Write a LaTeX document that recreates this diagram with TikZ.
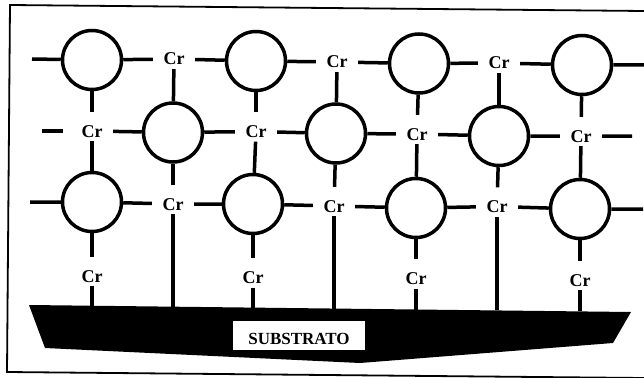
\documentclass[tikz,border=0pt]{standalone}
\usepackage{fontspec}
\setmainfont{Liberation Serif}
\begin{document}
\begin{tikzpicture}[x=1pt,y=-1pt,
  bond/.style={line width=3.5pt},
  ring/.style={circle,draw,line width=3.5pt,minimum size=59pt,inner sep=0pt},
  crlab/.style={font=\bfseries\fontsize{18}{20}\selectfont,inner xsep=10.5pt,inner ysep=4pt,text height=12pt,text depth=0pt},
  fromtop/.style={shorten >=9pt}]
\useasboundingbox (0,0) rectangle (644,377);
% frame
\draw[line width=1.8pt] (644,11) -- (10,5) -- (7,372) -- (644,378);

% substrate
\fill (29,305) -- (631,312) -- (613,343) -- (360,363) -- (45,348) -- cycle;
\node[fill=white,minimum width=132pt,minimum height=29pt,inner sep=0pt,
      text height=18pt,text depth=0pt,font=\bfseries\fontsize{17}{20}\selectfont]
  (sub) at (299,335.5) {SUBSTRATO};
\foreach \n/\x in {s1/92,s2/173,s3/253,s4/334,s5/416,s6/497,s7/580}
  \coordinate (\n) at (\x,{305+(\x-29)*7/602});

% rings
\node[ring] (a11) at (92,60) {};
\node[ring] (a12) at (256,61) {};
\node[ring] (a13) at (419,63.5) {};
\node[ring] (a14) at (582,65) {};
\node[ring] (a21) at (173,132.5) {};
\node[ring] (a22) at (336,133.5) {};
\node[ring] (a23) at (499,136) {};
\node[ring] (a31) at (92,202) {};
\node[ring] (a32) at (253,204) {};
\node[ring] (a33) at (416,208) {};
\node[ring] (a34) at (580,209) {};

% chromium links
\node[crlab] (c11) at (174,59) {Cr};
\node[crlab] (c12) at (337,62) {Cr};
\node[crlab] (c13) at (499,63) {Cr};
\node[crlab] (c21) at (92,131) {Cr};
\node[crlab] (c22) at (256,131.5) {Cr};
\node[crlab] (c23) at (417,134) {Cr};
\node[crlab] (c24) at (581,136) {Cr};
\node[crlab] (c31) at (173,204) {Cr};
\node[crlab] (c32) at (334,206) {Cr};
\node[crlab] (c33) at (497,206.5) {Cr};
\node[crlab] (c41) at (92,276) {Cr};
\node[crlab] (c42) at (253,277.5) {Cr};
\node[crlab] (c43) at (416,278.5) {Cr};
\node[crlab] (c44) at (580,280) {Cr};

% free ends of the chains
\coordinate (l1) at (32,59);
\coordinate (r1) at (644,65);
\coordinate (l2) at (42,131);
\coordinate (r2) at (632,136);
\coordinate (l3) at (30,202);
\coordinate (r3) at (643,209);

\begin{scope}[bond]
% horizontal chains
\draw (l1) -- (a11) -- (c11) -- (a12) -- (c12) -- (a13) -- (c13) -- (a14) -- (r1);
\draw[shorten <=8pt] (c21) -- (l2);
\draw (c21) -- (a21) -- (c22) -- (a22) -- (c23) -- (a23) -- (c24) -- (r2);
\draw (l3) -- (a31) -- (c31) -- (a32) -- (c32) -- (a33) -- (c33) -- (a34) -- (r3);
% vertical links
\draw[fromtop] (a11) -- (c21);  \draw (c21) -- (a31);
\draw[fromtop] (a12) -- (c22);  \draw (c22) -- (a32);
\draw[fromtop] (a13) -- (c23);  \draw (c23) -- (a33);
\draw[fromtop] (a14) -- (c24);  \draw (c24) -- (a34);
\draw (c11) -- (a21);  \draw[fromtop] (a21) -- (c31);  \draw (c31) -- (s2);
\draw (c12) -- (a22);  \draw[fromtop] (a22) -- (c32);  \draw (c32) -- (s4);
\draw (c13) -- (a23);  \draw[fromtop] (a23) -- (c33);  \draw (c33) -- (s6);
\draw[fromtop] (a31) -- (c41);  \draw (c41) -- (s1);
\draw[fromtop] (a32) -- (c42);  \draw (c42) -- (s3);
\draw[fromtop] (a33) -- (c43);  \draw (c43) -- (s5);
\draw[fromtop] (a34) -- (c44);  \draw (c44) -- (s7);
\end{scope}
\end{tikzpicture}
\end{document}
